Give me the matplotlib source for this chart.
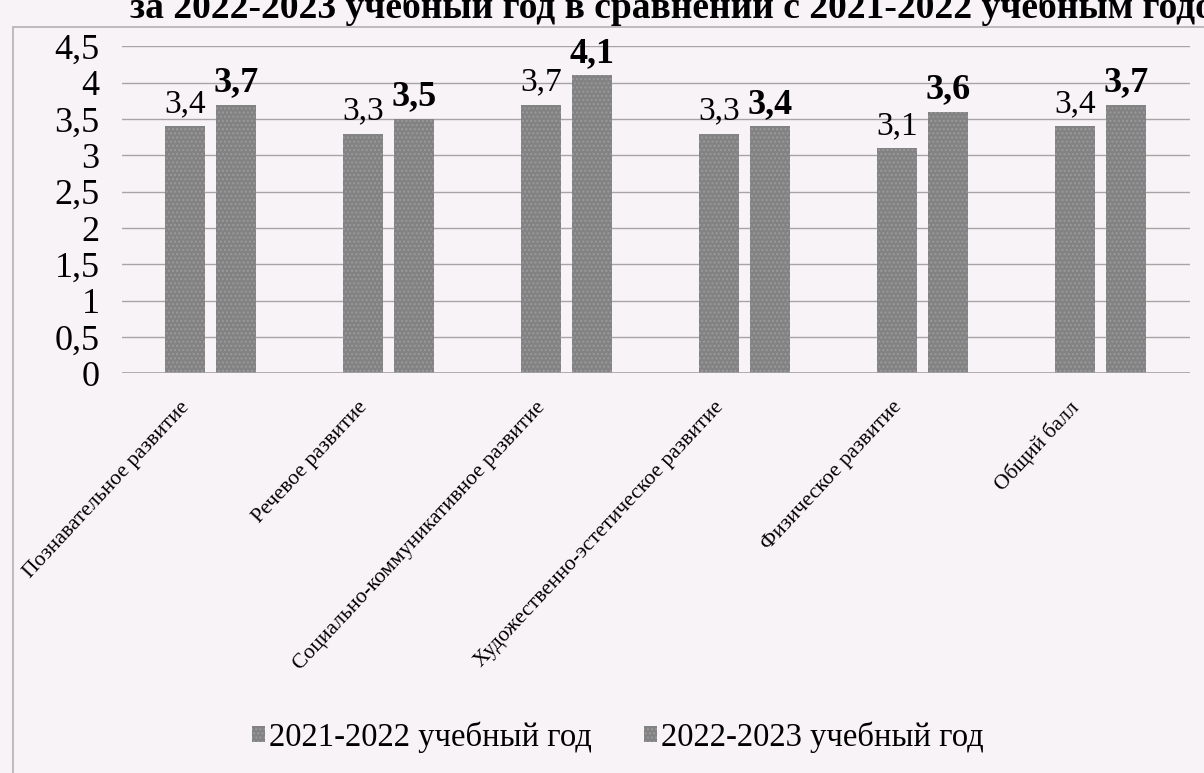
import numpy as np
import matplotlib.pyplot as plt
import matplotlib.transforms as mtransforms
from matplotlib.patches import Rectangle

categories = ['Познавательное развитие', 'Речевое развитие',
              'Социально-коммуникативное развитие',
              'Художественно-эстетическое развитие',
              'Физическое развитие', 'Общий балл']
vals_2122 = [3.4, 3.3, 3.7, 3.3, 3.1, 3.4]
vals_2223 = [3.7, 3.5, 4.1, 3.4, 3.6, 3.7]
labels_2122 = ['3,4', '3,3', '3,7', '3,3', '3,1', '3,4']
labels_2223 = ['3,7', '3,5', '4,1', '3,4', '3,6', '3,7']
yticks = [0, 0.5, 1, 1.5, 2, 2.5, 3, 3.5, 4, 4.5]
ytick_labels = ['0', '0,5', '1', '1,5', '2', '2,5', '3', '3,5', '4', '4,5']

plt.rcParams['font.family'] = ['Liberation Serif', 'DejaVu Serif']
bg = '#f8f3f6'
bar_col = '#828282'

fig = plt.figure(figsize=(12.04, 7.73), dpi=100, facecolor=bg)
ax = fig.add_axes([0.101, 0.517, 0.887, 0.423], facecolor=bg)

# outer frame of the chart (scan, cut at right and bottom)
fig.patches.append(Rectangle((13 / 1204, -0.1), 1.2, 1 - 27 / 773 + 0.1,
                             transform=fig.transFigure, fill=False,
                             edgecolor='#b5b0b3', lw=1.2))

fig.text(130 / 1204, 1 - 18 / 773,
         'за 2022-2023 учебный год в сравнении с 2021-2022 учебным годом',
         fontsize=27, fontweight='bold', va='baseline', ha='left')

x = np.arange(len(categories))
w = 0.225
b1 = ax.bar(x - 0.142, vals_2122, w, color=bar_col, label='2021-2022 учебный год',
            hatch='....', edgecolor='#9a9a9a', linewidth=0)
b2 = ax.bar(x + 0.142, vals_2223, w, color=bar_col, label='2022-2023 учебный год',
            hatch='....', edgecolor='#9a9a9a', linewidth=0)

for r, t in zip(b1, labels_2122):
    ax.annotate(t, (r.get_x() + r.get_width() / 2, r.get_height()),
                xytext=(0, 5), textcoords='offset points', ha='center',
                va='bottom', fontsize=24)
for r, t in zip(b2, labels_2223):
    ax.annotate(t, (r.get_x() + r.get_width() / 2, r.get_height()),
                xytext=(0, 4), textcoords='offset points', ha='center',
                va='bottom', fontsize=26, fontweight='bold')

ax.set_ylim(0, 4.5)
ax.set_xlim(-0.5, len(categories) - 0.5)
ax.set_yticks(yticks)
ax.set_yticklabels(ytick_labels, fontsize=26)
ax.set_xticks(x)
ax.set_xticklabels([])

# category labels, rotated, ending a bit left of and below each tick
shift = mtransforms.ScaledTranslation(-0.24, -0.31, fig.dpi_scale_trans)
for xi, cat in zip(x, categories):
    ax.text(xi, 0, cat, transform=ax.get_xaxis_transform() + shift,
            rotation=47, ha='right', va='center', rotation_mode='anchor',
            fontsize=15.5)

ax.tick_params(length=0, pad=8)
ax.tick_params(axis='y', pad=16)
ax.grid(axis='y', color='#a8a4a6', lw=1)
ax.set_axisbelow(True)
for s in ax.spines.values():
    s.set_visible(False)
ax.axhline(0, color='#a8a4a6', lw=1.2)

fig.legend(handles=[b1, b2], loc='center', bbox_to_anchor=(0.513, 1 - 737 / 773),
           ncol=2, frameon=False, fontsize=23.5, handlelength=0.4,
           handleheight=0.4, handletextpad=0.12, columnspacing=1.6)

plt.savefig('out.png', dpi=100, facecolor=bg)
